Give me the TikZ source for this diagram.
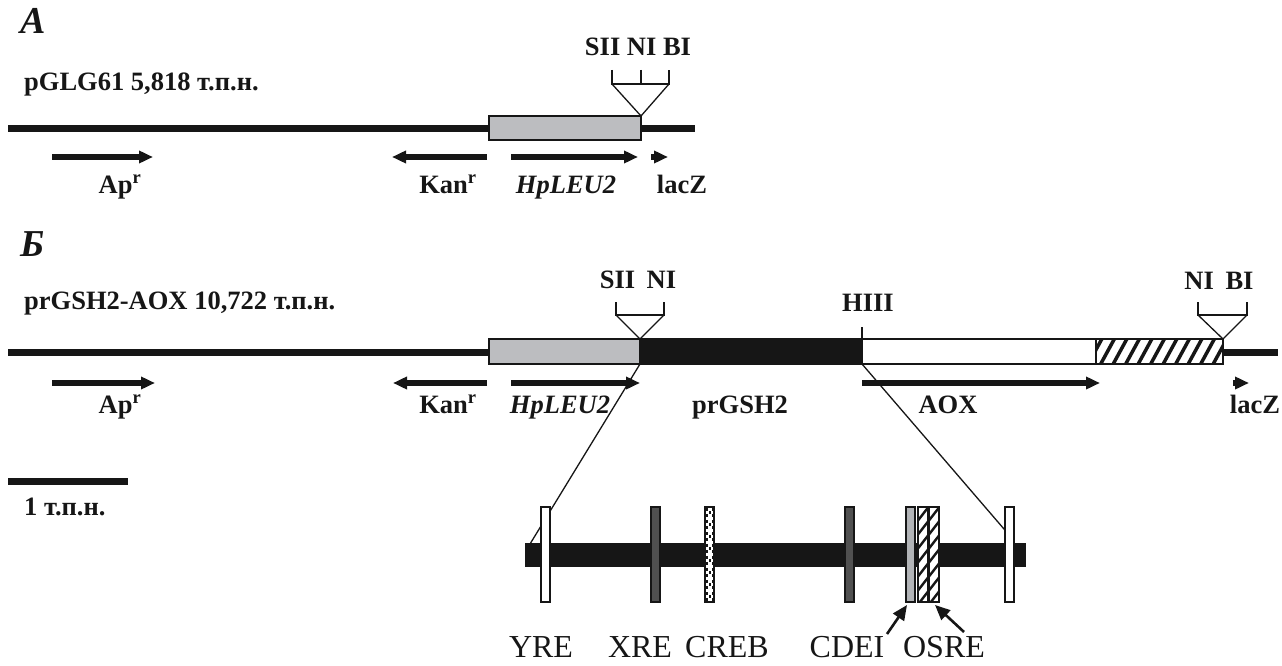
\documentclass[tikz,border=0pt]{standalone}
\usepackage{fontspec}
\setmainfont{Liberation Serif}
\usetikzlibrary{arrows.meta}
\definecolor{ink}{RGB}{22,22,22}
\definecolor{boxgray}{RGB}{188,189,192}
\definecolor{dkgray}{RGB}{80,80,80}
\definecolor{ltgray}{RGB}{178,180,183}
\newcommand\fbold{\fontsize{26.5}{31}\selectfont\bfseries}
\newcommand\fboldit{\fontsize{26.5}{31}\selectfont\bfseries\itshape}
\newcommand\fpanel{\fontsize{38}{44}\selectfont\bfseries\itshape}
\newcommand\fsite{\fontsize{32}{37}\selectfont}
\begin{document}
\begin{tikzpicture}[x=1pt,y=-1pt,
  backbone/.style={draw=ink,line width=7pt},
  outline/.style={draw=ink,line width=1.3pt},
  siteline/.style={draw=ink,line width=1.3pt},
  genearrow/.style={draw=ink,line width=6pt,-{Triangle[length=14pt,width=12pt]}},
  pointer/.style={draw=ink,line width=2.6pt,-{Triangle[length=15pt,width=13pt]}},
  zoomline/.style={draw=ink,line width=1.3pt},
  txt/.style={anchor=base,inner sep=0pt,text=ink,font=\fbold},
  txtit/.style={txt,font=\fboldit},
  paneltxt/.style={anchor=base west,inner sep=0pt,text=ink,font=\fpanel},
  sitetxt/.style={anchor=base,inner sep=0pt,text=ink,font=\fsite},
  hatch/.style={draw=ink,line width=3.5pt},
  thinhatch/.style={draw=ink,line width=2.4pt}]
\useasboundingbox (0,0) rectangle (1282,666);
% ================= Panel A =================
\node[paneltxt] (panelA) at (20,34) {А};
\node[txt,anchor=base west] (nameA) at (24,91) {pGLG61 5,818 т.п.н.};
\node[txt] (sitesA) at (638,56) {SII NI BI};
\draw[backbone] (8,128.5) -- (695,128.5);
\draw[outline,fill=boxgray] (489,116) rectangle (641,140);
\draw[siteline] (612,70) -- (612,84) -- (669,84) -- (669,70);
\draw[siteline] (641,70) -- (641,84);
\draw[siteline] (612,84) -- (641,116) -- (669,84);
% gene arrows A
\coordinate (aAp0) at (52,157);  \coordinate (aAp1) at (153,157);
\coordinate (aKan0) at (487,157); \coordinate (aKan1) at (392,157);
\coordinate (aLeu0) at (511,157); \coordinate (aLeu1) at (638,157);
\coordinate (aLac0) at (651,157); \coordinate (aLac1) at (668,157);
\draw[genearrow] (aAp0) -- (aAp1);
\draw[genearrow] (aKan0) -- (aKan1);
\draw[genearrow] (aLeu0) -- (aLeu1);
\draw[genearrow] (aLac0) -- (aLac1);
\node[txt] (apA) at (120,193) {Ap\textsuperscript{r}};
\node[txt] (kanA) at (448,193) {Kan\textsuperscript{r}};
\node[txtit] (leuA) at (566,193) {HpLEU2};
\node[txt] (lacA) at (682,193) {lacZ};
% ================= Panel B =================
\node[paneltxt] (panelB) at (20,256) {Б};
\node[txt,anchor=base west] (nameB) at (24,309) {prGSH2-AOX 10,722 т.п.н.};
\node[txt] (sitesB1) at (638,288) {SII\hspace{5pt} NI};
\node[txt] (sitesB2) at (1219,289) {NI\hspace{5pt} BI};
\node[txt] (hiii) at (868,311) {HIII};
\draw[backbone] (8,352) -- (1278,352);
\draw[outline,fill=boxgray] (489,339) rectangle (640,364);
\draw[outline,fill=ink] (640,339) rectangle (862,364);
\draw[outline,fill=white] (862,339) rectangle (1096,364);
\begin{scope}
  \clip (1096,339) rectangle (1223,364);
  \fill[white] (1096,339) rectangle (1223,364);
  \foreach \i in {0,...,11} {
    \draw[hatch] (1086+\i*12.5,368) -- (1104+\i*12.5,335);
  }
\end{scope}
\draw[outline] (1096,339) rectangle (1223,364);
\draw[siteline] (616,302) -- (616,315) -- (664,315) -- (664,302);
\draw[siteline] (616,315) -- (640,339) -- (664,315);
\draw[siteline] (862,327) -- (862,339);
\draw[siteline] (1198,302) -- (1198,315) -- (1247,315) -- (1247,302);
\draw[siteline] (1198,315) -- (1223,339) -- (1247,315);
% gene arrows B
\coordinate (bAp0) at (52,383);  \coordinate (bAp1) at (155,383);
\coordinate (bKan0) at (487,383); \coordinate (bKan1) at (393,383);
\coordinate (bLeu0) at (511,383); \coordinate (bLeu1) at (640,383);
\coordinate (bAox0) at (862,383); \coordinate (bAox1) at (1100,383);
\coordinate (bLac0) at (1233,383); \coordinate (bLac1) at (1249,383);
\draw[genearrow] (bAp0) -- (bAp1);
\draw[genearrow] (bKan0) -- (bKan1);
\draw[genearrow] (bLeu0) -- (bLeu1);
\draw[genearrow] (bAox0) -- (bAox1);
\draw[genearrow] (bLac0) -- (bLac1);
\node[txt] (apB) at (120,413) {Ap\textsuperscript{r}};
\node[txt] (kanB) at (448,413) {Kan\textsuperscript{r}};
\node[txtit] (leuB) at (560,413) {HpLEU2};
\node[txt] (prB) at (740,413) {prGSH2};
\node[txt] (aoxB) at (948,413) {AOX};
\node[txt] (lacB) at (1255,413) {lacZ};
% scale bar
\draw[backbone] (8,481.5) -- (128,481.5);
\node[txt,anchor=base west] (scaleT) at (24,515) {1 т.п.н.};
% ================= Promoter detail =================
\coordinate (zL0) at (640,364); \coordinate (zL1) at (530,544);
\coordinate (zR0) at (862,364); \coordinate (zR1) at (1010,536);
\draw[zoomline] (zL0) -- (zL1);
\draw[zoomline] (zR0) -- (zR1);
\fill[ink] (525,543) rectangle (1026,567);
% YRE
\draw[outline,fill=white] (541,507) rectangle (550,602);
% XRE
\draw[outline,fill=dkgray] (651,507) rectangle (660,602);
% CREB
\draw[outline,fill=white] (705,507) rectangle (714,602);
\foreach \j in {0,2,...,30} {
  \fill[ink] (705.5,508+\j*3) rectangle (708,511+\j*3);
  \fill[ink] (711.5,508+\j*3) rectangle (713.5,511+\j*3);
}
\foreach \j in {1,5,...,29} {
  \fill[ink] (708.5,508+\j*3) rectangle (711,511+\j*3);
}
\draw[outline] (705,507) rectangle (714,602);
% second XRE
\draw[outline,fill=dkgray] (845,507) rectangle (854,602);
% CDEI
\draw[outline,fill=ltgray] (906,507) rectangle (915,602);
% OSRE (two hatched)
\begin{scope}
  \clip (918,507) rectangle (928,602);
  \fill[white] (918,507) rectangle (928,602);
  \foreach \k in {0,...,7} {
    \draw[thinhatch] (916,507+\k*14+16) -- (930,507+\k*14-2);
  }
\end{scope}
\draw[outline] (918,507) rectangle (928,602);
\begin{scope}
  \clip (929,507) rectangle (939,602);
  \fill[white] (929,507) rectangle (939,602);
  \foreach \k in {0,...,7} {
    \draw[thinhatch] (927,507+\k*14+16) -- (941,507+\k*14-2);
  }
\end{scope}
\draw[outline] (929,507) rectangle (939,602);
% right YRE
\draw[outline,fill=white] (1005,507) rectangle (1014,602);
% labels
\node[sitetxt] (yre) at (541,657) {YRE};
\node[sitetxt] (xre) at (640,657) {XRE};
\node[sitetxt] (creb) at (727,657) {CREB};
\node[sitetxt] (cdei) at (847,657) {CDEI};
\node[sitetxt] (osre) at (944,657) {OSRE};
\coordinate (pC0) at (887,634); \coordinate (pC1) at (907,605);
\coordinate (pO0) at (964,632); \coordinate (pO1) at (935,605);
\draw[pointer] (pC0) -- (pC1);
\draw[pointer] (pO0) -- (pO1);
\end{tikzpicture}
\end{document}
